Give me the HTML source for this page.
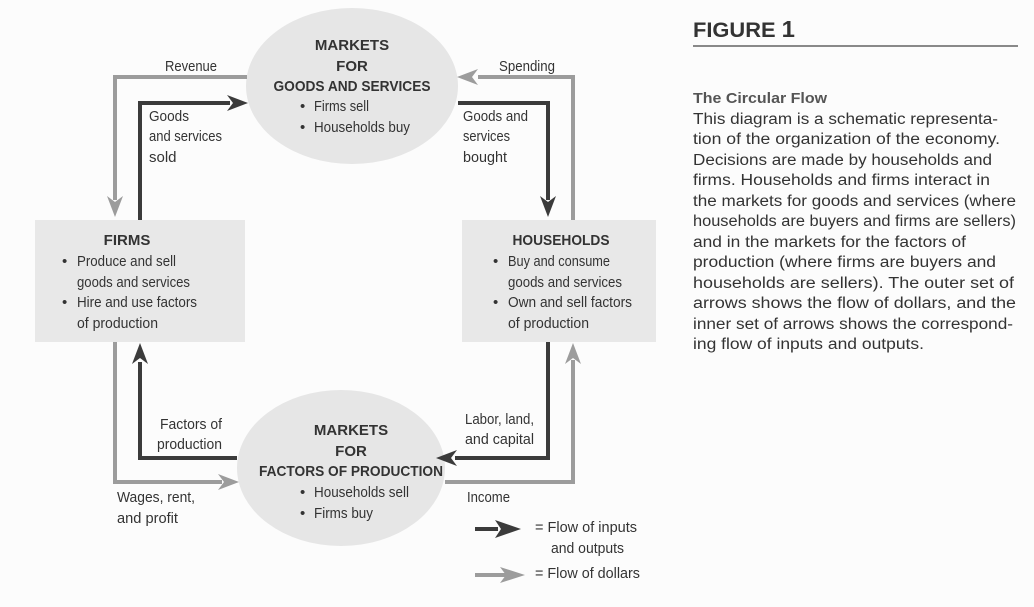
<!DOCTYPE html>
<html><head><meta charset="utf-8"><style>
html,body{margin:0;padding:0;background:#fcfcfc;}
svg{display:block;font-family:"Liberation Sans",sans-serif;}
</style></head><body>
<svg width="1034" height="607" viewBox="0 0 1034 607" xmlns="http://www.w3.org/2000/svg">
<rect width="1034" height="607" fill="#fcfcfc"/>
<rect x="35" y="220" width="210" height="122" fill="#e8e8e8"/>
<rect x="462" y="220" width="194" height="122" fill="#e8e8e8"/>
<ellipse cx="352" cy="86" rx="106" ry="78" fill="#e6e6e6"/>
<ellipse cx="341" cy="468" rx="104" ry="78" fill="#e6e6e6"/>
<g fill="none" stroke-width="4" stroke-linejoin="miter">
<polyline points="247,77 115,77 115,200" stroke="#9c9c9c"/>
<polyline points="573,220 573,77 478,77" stroke="#9c9c9c"/>
<polyline points="115,342 115,482 222,482" stroke="#9c9c9c"/>
<polyline points="445,482 573,482 573,360" stroke="#9c9c9c"/>
<line x1="475" y1="575" x2="506" y2="575" stroke="#9c9c9c"/>
<polyline points="140,220 140,103 230,103" stroke="#3b3b3b"/>
<polyline points="458,103 548,103 548,200" stroke="#3b3b3b"/>
<polyline points="237,458 140,458 140,362" stroke="#3b3b3b"/>
<polyline points="548,342 548,458 455,458" stroke="#3b3b3b"/>
<line x1="475" y1="529" x2="498" y2="529" stroke="#3b3b3b"/>
</g>
<g fill="#9c9c9c">
<path d="M107,196 L115,217 L123,196 L115,202z"/>
<path d="M478,69 L457,77 L478,85 L472,77z"/>
<path d="M218,474 L239,482 L218,490 L224,482z"/>
<path d="M565,364 L573,343 L581,364 L573,358z"/>
<path d="M500,567 L525,575 L500,583 L506,575z"/>
</g>
<g fill="#3b3b3b">
<path d="M227,95 L248,103 L227,111 L233,103z"/>
<path d="M540,196 L548,217 L556,196 L548,202z"/>
<path d="M132,364 L140,343 L148,364 L140,358z"/>
<path d="M457,450 L436,458 L457,466 L451,458z"/>
<path d="M495,520 L521,529 L495,538 L501,529z"/>
</g>
<g fill="#333" font-size="15">
<g font-weight="bold" text-anchor="middle">
<text x="352" y="50">MARKETS</text>
<text x="352" y="71">FOR</text>
<text x="352" y="91" textLength="157" lengthAdjust="spacingAndGlyphs">GOODS AND SERVICES</text>
<text x="127" y="245">FIRMS</text>
<text x="561" y="245" textLength="97" lengthAdjust="spacingAndGlyphs">HOUSEHOLDS</text>
<text x="351" y="435">MARKETS</text>
<text x="351" y="456">FOR</text>
<text x="351" y="476" textLength="184" lengthAdjust="spacingAndGlyphs">FACTORS OF PRODUCTION</text>
</g>
<text x="300" y="111">•</text><text x="314" y="111" textLength="55" lengthAdjust="spacingAndGlyphs">Firms sell</text>
<text x="300" y="132">•</text><text x="314" y="132" textLength="96" lengthAdjust="spacingAndGlyphs">Households buy</text>
<text x="165" y="71" textLength="52" lengthAdjust="spacingAndGlyphs">Revenue</text>
<text x="499" y="71" textLength="56" lengthAdjust="spacingAndGlyphs">Spending</text>
<text x="149" y="121" textLength="40" lengthAdjust="spacingAndGlyphs">Goods</text>
<text x="149" y="141" textLength="73" lengthAdjust="spacingAndGlyphs">and services</text>
<text x="149" y="162">sold</text>
<text x="463" y="121" textLength="65" lengthAdjust="spacingAndGlyphs">Goods and</text>
<text x="463" y="141" textLength="47" lengthAdjust="spacingAndGlyphs">services</text>
<text x="463" y="162" textLength="44" lengthAdjust="spacingAndGlyphs">bought</text>
<text x="62" y="266">•</text><text x="77" y="266" textLength="99" lengthAdjust="spacingAndGlyphs">Produce and sell</text>
<text x="77" y="287" textLength="113" lengthAdjust="spacingAndGlyphs">goods and services</text>
<text x="62" y="307">•</text><text x="77" y="307" textLength="120" lengthAdjust="spacingAndGlyphs">Hire and use factors</text>
<text x="77" y="328" textLength="81" lengthAdjust="spacingAndGlyphs">of production</text>
<text x="493" y="266">•</text><text x="508" y="266" textLength="102" lengthAdjust="spacingAndGlyphs">Buy and consume</text>
<text x="508" y="287" textLength="114" lengthAdjust="spacingAndGlyphs">goods and services</text>
<text x="493" y="307">•</text><text x="508" y="307" textLength="124" lengthAdjust="spacingAndGlyphs">Own and sell factors</text>
<text x="508" y="328" textLength="81" lengthAdjust="spacingAndGlyphs">of production</text>
<text x="222" y="429" text-anchor="end" textLength="62" lengthAdjust="spacingAndGlyphs">Factors of</text>
<text x="222" y="449" text-anchor="end" textLength="65" lengthAdjust="spacingAndGlyphs">production</text>
<text x="465" y="424" textLength="69" lengthAdjust="spacingAndGlyphs">Labor, land,</text>
<text x="465" y="444" textLength="69" lengthAdjust="spacingAndGlyphs">and capital</text>
<text x="300" y="497">•</text><text x="314" y="497" textLength="95" lengthAdjust="spacingAndGlyphs">Households sell</text>
<text x="300" y="518">•</text><text x="314" y="518" textLength="59" lengthAdjust="spacingAndGlyphs">Firms buy</text>
<text x="117" y="502" textLength="78" lengthAdjust="spacingAndGlyphs">Wages, rent,</text>
<text x="117" y="523" textLength="61" lengthAdjust="spacingAndGlyphs">and profit</text>
<text x="467" y="502" textLength="43" lengthAdjust="spacingAndGlyphs">Income</text>
<text x="535" y="532" textLength="102" lengthAdjust="spacingAndGlyphs">= Flow of inputs</text>
<text x="551" y="553" textLength="73" lengthAdjust="spacingAndGlyphs">and outputs</text>
<text x="535" y="578" textLength="105" lengthAdjust="spacingAndGlyphs">= Flow of dollars</text>
</g>
<g fill="#333">
<text x="693" y="37" font-size="21" font-weight="bold" textLength="102" lengthAdjust="spacingAndGlyphs">FIGURE <tspan font-size="23">1</tspan></text>
<line x1="693" y1="46" x2="1018" y2="46" stroke="#444" stroke-width="1.3"/>
<text x="693" y="103" font-size="15" font-weight="bold" fill="#555" textLength="134" lengthAdjust="spacingAndGlyphs">The Circular Flow</text>
<g font-size="15.5">
<text x="693" y="124" textLength="305" lengthAdjust="spacingAndGlyphs">This diagram is a schematic representa-</text>
<text x="693" y="144" textLength="307" lengthAdjust="spacingAndGlyphs">tion of the organization of the economy.</text>
<text x="693" y="165" textLength="299" lengthAdjust="spacingAndGlyphs">Decisions are made by households and</text>
<text x="693" y="185" textLength="297" lengthAdjust="spacingAndGlyphs">firms. Households and firms interact in</text>
<text x="693" y="206" textLength="323" lengthAdjust="spacingAndGlyphs">the markets for goods and services (where</text>
<text x="693" y="226" textLength="323" lengthAdjust="spacingAndGlyphs">households are buyers and firms are sellers)</text>
<text x="693" y="247" textLength="273" lengthAdjust="spacingAndGlyphs">and in the markets for the factors of</text>
<text x="693" y="267" textLength="303" lengthAdjust="spacingAndGlyphs">production (where firms are buyers and</text>
<text x="693" y="288" textLength="321" lengthAdjust="spacingAndGlyphs">households are sellers). The outer set of</text>
<text x="693" y="308" textLength="323" lengthAdjust="spacingAndGlyphs">arrows shows the flow of dollars, and the</text>
<text x="693" y="329" textLength="320" lengthAdjust="spacingAndGlyphs">inner set of arrows shows the correspond-</text>
<text x="693" y="349" textLength="231" lengthAdjust="spacingAndGlyphs">ing flow of inputs and outputs.</text>
</g>
</g>
</svg>
</body></html>
